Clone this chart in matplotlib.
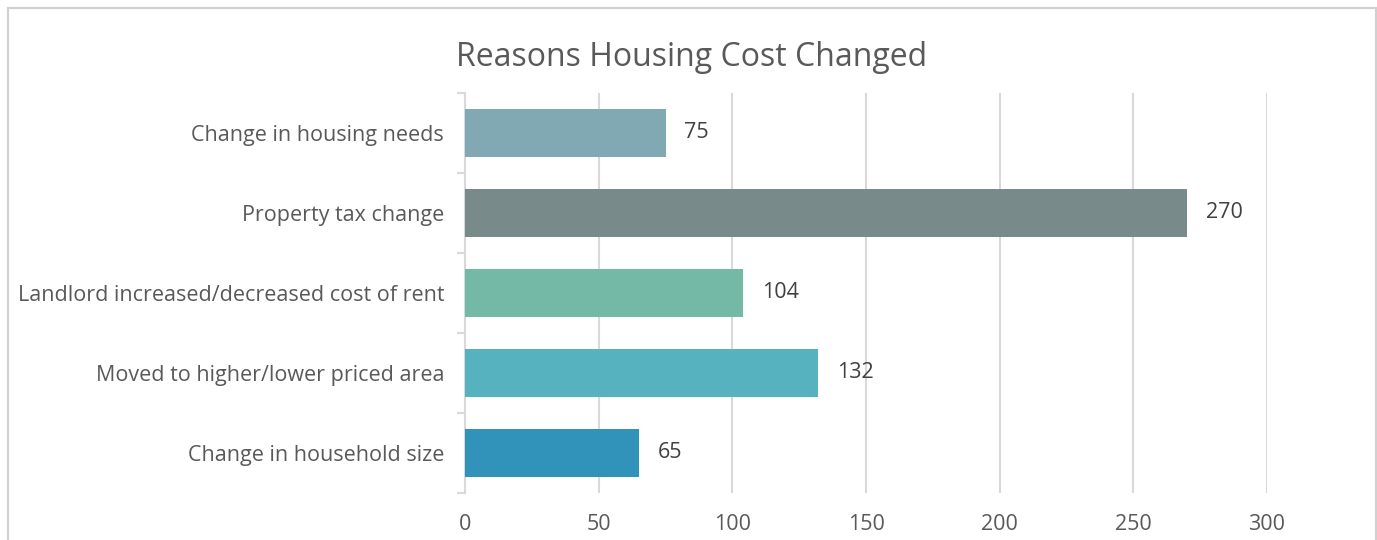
import matplotlib
matplotlib.use("Agg")
import matplotlib.pyplot as plt
from matplotlib.patches import Rectangle
import numpy as np

# data, top to bottom as drawn
categories = ["Change in housing needs", "Property tax change",
              "Landlord increased/decreased cost of rent",
              "Moved to higher/lower priced area", "Change in household size"]
values = [75, 270, 104, 132, 65]
colors = ["#80A9B3", "#788A89", "#73B9A5", "#56B2BF", "#3192BA"]
xticks = [0, 50, 100, 150, 200, 250, 300]
title = "Reasons Housing Cost Changed"

plt.rcParams['font.family'] = ['Open Sans', 'DejaVu Sans']
text_col = "#595959"
grid_col = "#D9D9D9"

fig = plt.figure(figsize=(13.77, 5.4), dpi=100)

# outer chart frame
fig.patches.append(Rectangle((8/1377, -0.1), (1368)/1377, 1.1 - 8/540,
                             transform=fig.transFigure, fill=False,
                             edgecolor="#D0D0D0", linewidth=1.5))

ax = fig.add_axes([465/1377, 47/540, 802/1377, 400/540])

y = np.arange(len(categories))[::-1]
ax.barh(y, values, height=0.61, color=colors, zorder=3)
for yi, v in zip(y, values):
    ax.text(v + 7, yi, str(v), va="center", ha="left", fontsize=15.5,
            color="#404040")

ax.set_xlim(0, 300)
ax.set_ylim(-0.5, len(categories) - 0.5)
ax.set_xticks(xticks)
ax.set_xticklabels([str(t) for t in xticks], fontsize=15.5, color=text_col)
ax.set_yticks(y)
ax.set_yticklabels(categories, fontsize=15.5, color=text_col)
ax.set_yticks(np.arange(len(categories) + 1) - 0.5, minor=True)
ax.tick_params(axis="y", which="major", length=0, pad=15)
ax.tick_params(axis="y", which="minor", length=6, color=grid_col, width=1.5)
ax.tick_params(axis="x", length=0, pad=15)

ax.grid(axis="x", color=grid_col, linewidth=1.5, zorder=0)
for s in ["top", "right", "bottom"]:
    ax.spines[s].set_visible(False)
ax.spines["left"].set_color(grid_col)
ax.spines["left"].set_linewidth(1.5)

fig.text(692/1377, 1 - 58/540, title, ha="center", va="center",
         fontsize=23, color=text_col)

fig.savefig("out.png", dpi=100)
